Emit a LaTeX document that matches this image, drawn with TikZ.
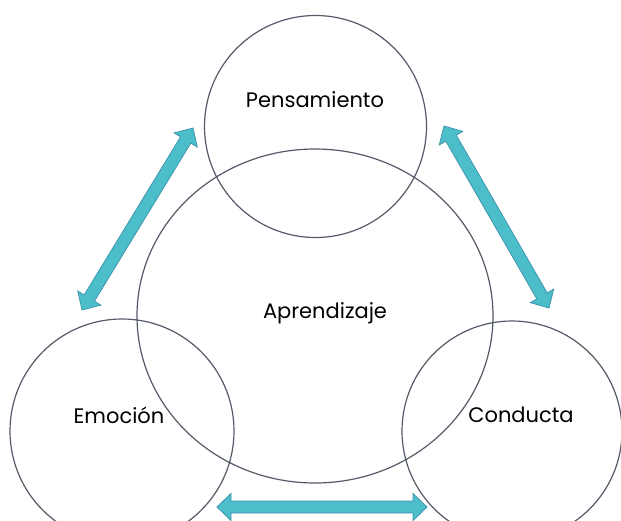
\documentclass[tikz,border=0pt]{standalone}
\usepackage{fontspec}
\setmainfont{Poppins}
\usetikzlibrary{shapes.geometric,calc}
\definecolor{ringc}{RGB}{84,90,104}
\definecolor{arrfill}{RGB}{76,190,202}
\definecolor{arredge}{RGB}{64,150,175}
\newcommand{\dblarr}[2]{%
  \path (#1) -- coordinate[pos=0] (tmpA) (#2);
  \coordinate (hA) at ($(#1)!14pt!(#2)$);
  \coordinate (hB) at ($(#2)!14pt!(#1)$);
  \draw[arrbody] (#1) -- ($(hA)!13.5pt!90:(#2)$) -- ($(hA)!6pt!90:(#2)$)
    -- ($(hB)!6pt!-90:(#1)$) -- ($(hB)!13.5pt!-90:(#1)$) -- (#2)
    -- ($(hB)!13.5pt!90:(#1)$) -- ($(hB)!6pt!90:(#1)$)
    -- ($(hA)!6pt!-90:(#2)$) -- ($(hA)!13.5pt!-90:(#2)$) -- cycle;}
\begin{document}
\begin{tikzpicture}[x=1pt,y=-1pt,
  ring/.style={circle, draw=ringc, line width=1.2pt, inner sep=0pt, minimum size=#1},
  oval/.style={ellipse, draw=ringc, line width=1.2pt, inner sep=0pt},
  lbl/.style={font=\fontsize{21}{24}\selectfont, text=black, inner sep=0pt},
  arrbody/.style={draw=arredge, fill=arrfill, line width=0.8pt, line join=miter}]
\useasboundingbox (0,0) rectangle (621,520);
\clip (0,0) rectangle (621,520);
\fill[white] (0,0) rectangle (621,520);
% circles
\node[ring=222pt] (pens) at (315.5,126.5) {};
\node[oval, minimum width=356pt, minimum height=334pt] (apr) at (315,316) {};
\node[ring=224pt] (emo) at (122,431) {};
\node[ring=220pt] (con) at (512,431) {};
% labels
\node[lbl] (tpens) at (315,100) {Pensamiento};
\node[lbl] (tapr) at (325,313) {Aprendizaje};
\node[lbl] (temo) at (119,415) {Emoción};
\node[lbl] (tcon) at (521,415) {Conducta};
% arrow end points
\coordinate (l1) at (193,128);
\coordinate (l2) at (82,310);
\coordinate (r1) at (444,126);
\coordinate (r2) at (549,308);
\coordinate (b1) at (217,507);
\coordinate (b2) at (427,507);
\dblarr{l1}{l2}
\dblarr{r1}{r2}
\dblarr{b1}{b2}
\end{tikzpicture}
\end{document}
